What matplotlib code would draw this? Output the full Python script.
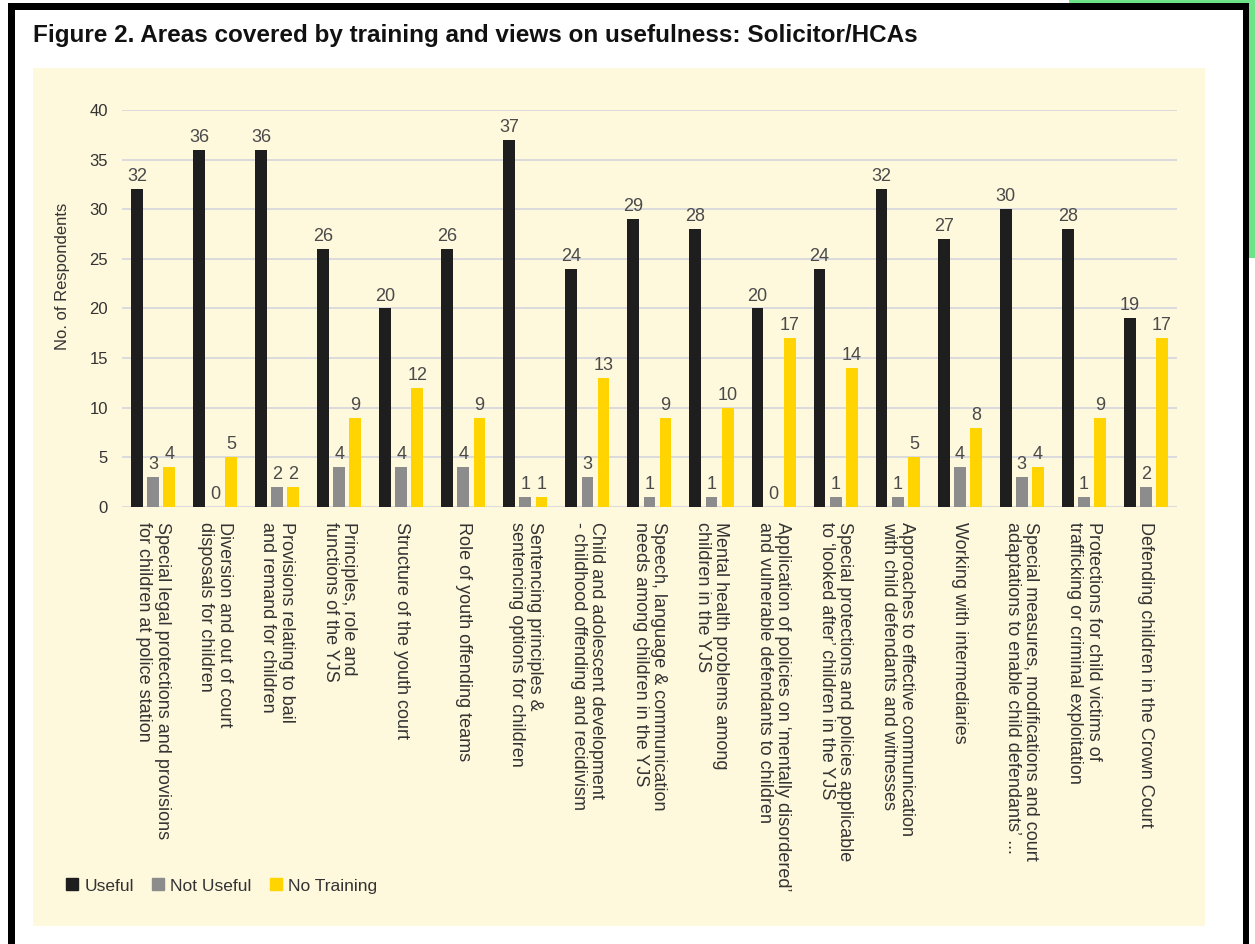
import matplotlib.pyplot as plt
import matplotlib.patches as mpatches
from matplotlib.lines import Line2D
import numpy as np

plt.rcParams['font.family'] = ['Liberation Sans', 'DejaVu Sans']

# Data
categories = [
    "Special legal protections and provisions\nfor children at police station",
    "Diversion and out of court\ndisposals for children",
    "Provisions relating to bail\nand remand for children",
    "Principles, role and\nfunctions of the YJS",
    "Structure of the youth court",
    "Role of youth offending teams",
    "Sentencing principles &\nsentencing options for children",
    "Child and adolescent development\n- childhood offending and recidivism",
    "Speech, language & communication\nneeds among children in the YJS",
    "Mental health problems among\nchildren in the YJS",
    "Application of policies on \u2018mentally disordered\u2019\nand vulnerable defendants to children",
    "Special protections and policies applicable\nto \u2018looked after\u2019 children in the YJS",
    "Approaches to effective communication\nwith child defendants and witnesses",
    "Working with intermediaries",
    "Special measures, modifications and court\nadaptations to enable child defendants\u2019 ...",
    "Protections for child victims of\ntrafficking or criminal exploitation",
    "Defending children in the Crown Court",
]
useful = [32, 36, 36, 26, 20, 26, 37, 24, 29, 28, 20, 24, 32, 27, 30, 28, 19]
not_useful = [3, 0, 2, 4, 4, 4, 1, 3, 1, 1, 0, 1, 1, 4, 3, 1, 2]
no_training = [4, 5, 2, 9, 12, 9, 1, 13, 9, 10, 17, 14, 5, 8, 4, 9, 17]

series_names = ["Useful", "Not Useful", "No Training"]
colors = ["#1e1e1e", "#8c8c8c", "#ffd400"]
label_color = "#4a4a4a"

fig = plt.figure(figsize=(12.55, 9.44), dpi=100)
fig.patch.set_facecolor("white")

# frame of the screenshot + pale yellow panel behind the chart
def fig_rect(x0, y0, w, h, color, z):
    fig.patches.append(mpatches.Rectangle((x0, y0), w, h, transform=fig.transFigure,
                                          facecolor=color, edgecolor="none", zorder=z))

fig_rect(0.852, 0.727, 0.148, 0.273, "#6ee38a", -5)
fig_rect(0.0064, 0.0, 0.9888, 0.9968, "black", -4)
fig_rect(0.012, 0.0, 0.9784, 0.9894, "white", -3)
fig_rect(0.0263, 0.0191, 0.934, 0.909, "#fef8dc", -2)

fig.text(0.0263, 0.962, "Figure 2. Areas covered by training and views on usefulness: Solicitor/HCAs",
         fontsize=17.5, fontweight="bold", color="#111111", va="center", ha="left")

ax = fig.add_axes([0.0972, 0.4629, 0.8406, 0.4206])
ax.set_facecolor("none")

x = np.arange(len(categories))
width = 0.19
offset = 0.26
for i, (vals, name, col) in enumerate(zip([useful, not_useful, no_training], series_names, colors)):
    pos = x + (i - 1) * offset
    ax.bar(pos, vals, width, color=col, label=name, zorder=3)
    for xp, v in zip(pos, vals):
        ax.text(xp, v + 0.4, str(v), ha="center", va="bottom", fontsize=13, color=label_color)

ax.set_ylim(0, 40)
ax.set_xlim(-0.5, len(categories) - 0.5)
ax.set_yticks(range(0, 41, 5))
ax.yaxis.grid(True, color="#d8d8de", linewidth=1.3, zorder=0)
ax.set_axisbelow(True)
for s in ax.spines.values():
    s.set_visible(False)
ax.tick_params(axis="both", length=0, labelsize=12, colors="#333333")
ax.tick_params(axis="y", pad=10)
ax.set_xticks(x)
ax.set_xticklabels(categories, rotation=270, ha="center", va="top", fontsize=13,
                   color="#333333", linespacing=1.1, multialignment="left")
ax.tick_params(axis="x", pad=11)
ax.set_ylabel("No. of Respondents", fontsize=12, color="#333333")
ax.yaxis.set_label_coords(-0.049, 0.58)

handles = [Line2D([], [], marker="s", linestyle="none", markersize=8, color=c) for c in colors]
fig.legend(handles, series_names, loc="center left", bbox_to_anchor=(0.038, 0.0615),
           ncol=3, frameon=False, fontsize=12.5, handletextpad=0.2, columnspacing=0.9,
           labelcolor="#333333", handlelength=1.0)

fig.savefig("out.png", dpi=100)
